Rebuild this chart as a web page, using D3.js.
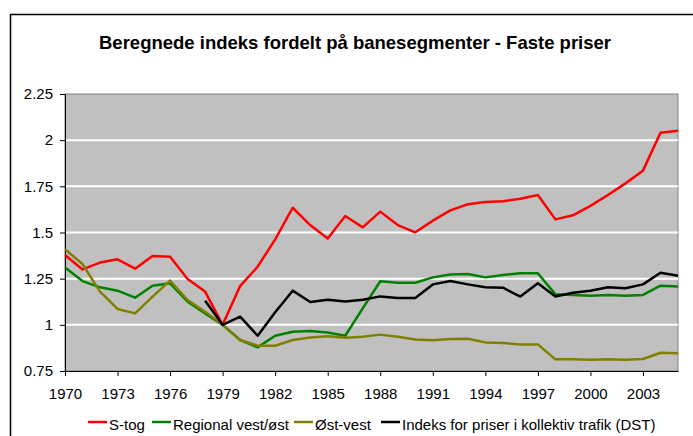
<!DOCTYPE html>
<html>
<head>
<meta charset="utf-8">
<script src="https://cdn.jsdelivr.net/npm/d3@7"></script>
<style>
  body { margin: 0; background: #fff; }
  svg { display: block; font-family: "Liberation Sans", Arial, sans-serif; }
</style>
</head>
<body>
<div id="chart"></div>
<script>
// years and series values
var years = d3.range(1970, 2006);

var sTog = [1.378, 1.30, 1.337, 1.355, 1.304, 1.373, 1.369, 1.248, 1.18, 1.0,
            1.21, 1.315, 1.463, 1.634, 1.54, 1.468, 1.589, 1.528, 1.613, 1.54,
            1.501, 1.564, 1.62, 1.653, 1.665, 1.669, 1.683, 1.703, 1.571, 1.593,
            1.644, 1.703, 1.766, 1.835, 2.04, 2.051];

var regional = [1.31, 1.237, 1.203, 1.185, 1.147, 1.212, 1.225, 1.125, 1.062, 1.0,
                0.918, 0.878, 0.941, 0.963, 0.967, 0.959, 0.941, 1.089, 1.236, 1.228,
                1.228, 1.257, 1.273, 1.275, 1.257, 1.27, 1.279, 1.279, 1.165, 1.162,
                1.158, 1.162, 1.158, 1.162, 1.212, 1.207];

var ostVest = [1.409, 1.329, 1.18, 1.086, 1.062, 1.153, 1.239, 1.134, 1.071, 1.0,
               0.918, 0.887, 0.887, 0.918, 0.932, 0.938, 0.93, 0.936, 0.947, 0.936,
               0.92, 0.916, 0.923, 0.925, 0.905, 0.902, 0.893, 0.894, 0.813, 0.813,
               0.811, 0.813, 0.811, 0.815, 0.849, 0.846];

// DST index starts in 1978
var dst = [null, null, null, null, null, null, null, null, 1.131, 1.0,
           1.044, 0.941, 1.068, 1.185, 1.124, 1.136, 1.127, 1.136, 1.154, 1.145,
           1.145, 1.219, 1.237, 1.219, 1.203, 1.201, 1.153, 1.225, 1.153, 1.174,
           1.185, 1.203, 1.198, 1.219, 1.282, 1.266];

var seriesNames = ["S-tog", "Regional vest/øst", "Øst-vest", "Indeks for priser i kollektiv trafik (DST)"];
var seriesColors = ["#ff0000", "#008000", "#808000", "#000000"];
var yTicks = [0.75, 1, 1.25, 1.5, 1.75, 2, 2.25];
var xTicks = d3.range(1970, 2004, 3);

var W = 693, H = 436;
var margin = {top: 94, right: 15, bottom: 65, left: 65};
var width = W - margin.left - margin.right;
var height = H - margin.top - margin.bottom;

var svg = d3.select("#chart").append("svg")
    .attr("width", W)
    .attr("height", H);

// outer chart frame (runs off the right and bottom edge)
svg.append("rect")
    .attr("x", 10.5).attr("y", 14.5)
    .attr("width", W).attr("height", H)
    .attr("fill", "none")
    .attr("stroke", "#000")
    .attr("stroke-width", 1.5);

svg.append("text")
    .attr("x", 355).attr("y", 49)
    .attr("text-anchor", "middle")
    .attr("font-size", 18.5)
    .attr("font-weight", "bold")
    .text("Beregnede indeks fordelt på banesegmenter - Faste priser");

var g = svg.append("g")
    .attr("transform", "translate(" + margin.left + "," + margin.top + ")");

var x = d3.scaleLinear().domain([1970, 2005]).range([0, width]);
var y = d3.scaleLinear().domain([0.75, 2.25]).range([height, 0]);

// plot area
g.append("rect")
    .attr("width", width).attr("height", height)
    .attr("fill", "#c0c0c0")
    .attr("stroke", "#808080")
    .attr("stroke-width", 1);

// gridlines
g.selectAll(".grid")
    .data(yTicks.slice(1, -1))
    .enter().append("line")
    .attr("x1", 0).attr("x2", width)
    .attr("y1", function(d) { return y(d); })
    .attr("y2", function(d) { return y(d); })
    .attr("stroke", "#fff")
    .attr("stroke-width", 2);

// axes
var yAxis = g.append("g")
    .call(d3.axisLeft(y).tickValues(yTicks).tickSize(5).tickPadding(7)
        .tickFormat(function(d) { return String(d); }));
yAxis.selectAll("text").attr("font-size", 15).attr("fill", "#000")
    .attr("font-family", "Liberation Sans, Arial, sans-serif");
yAxis.selectAll("line, path").attr("stroke", "#000");

var xAxis = g.append("g")
    .attr("transform", "translate(0," + height + ")")
    .call(d3.axisBottom(x).tickValues(xTicks).tickSize(5).tickPadding(12)
        .tickFormat(d3.format("d")).tickSizeOuter(0));
xAxis.selectAll("text").attr("font-size", 15).attr("fill", "#000")
    .attr("font-family", "Liberation Sans, Arial, sans-serif");
xAxis.selectAll("line, path").attr("stroke", "#000");

// lines
var allSeries = [sTog, regional, ostVest, dst];
var line = d3.line()
    .defined(function(d) { return d != null; })
    .x(function(d, i) { return x(years[i]); })
    .y(function(d) { return y(d); });

g.selectAll(".series")
    .data(allSeries)
    .enter().append("path")
    .attr("fill", "none")
    .attr("stroke", function(d, i) { return seriesColors[i]; })
    .attr("stroke-width", 2.5)
    .attr("stroke-linejoin", "round")
    .attr("d", line);

// legend
var legendX = [88, 152, 294, 381];
var legend = svg.selectAll(".legend")
    .data(seriesNames)
    .enter().append("g")
    .attr("transform", function(d, i) { return "translate(" + legendX[i] + ",422)"; });

legend.append("line")
    .attr("x1", 0).attr("x2", 19)
    .attr("stroke", function(d, i) { return seriesColors[i]; })
    .attr("stroke-width", 2.5);

legend.append("text")
    .attr("x", 21).attr("y", 8)
    .attr("font-size", 15)
    .text(function(d) { return d; });
</script>
</body>
</html>
